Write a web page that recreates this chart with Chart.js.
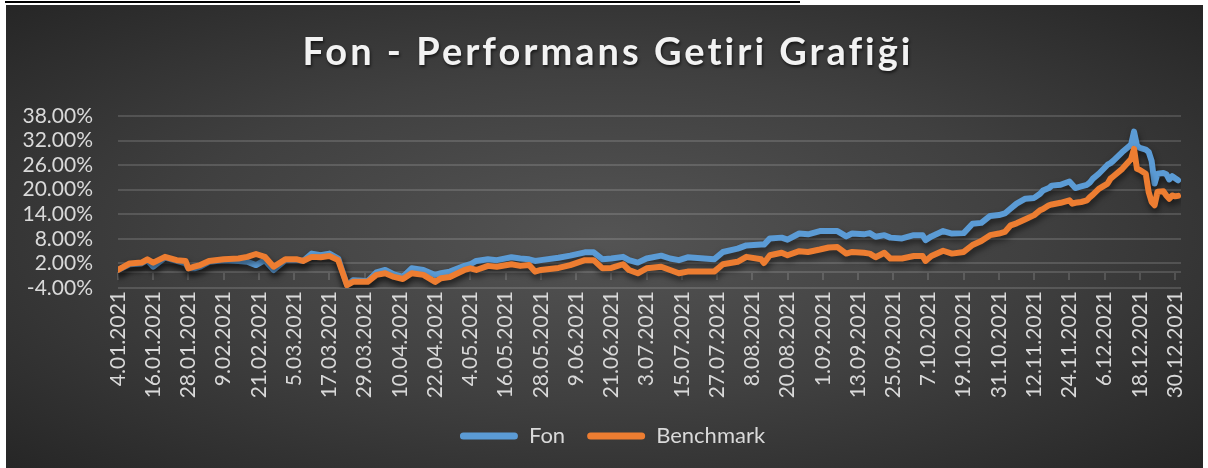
<!DOCTYPE html>
<html lang="tr">
<head>
<meta charset="UTF-8">
<title>Fon - Performans Getiri Grafiği</title>
<script src="https://cdn.jsdelivr.net/npm/chart.js@4.4.1/dist/chart.umd.min.js"></script>
<style>
    html, body { margin: 0; padding: 0; background: #fff; }
    body { width: 1208px; height: 468px; position: relative; overflow: hidden; }
    .top-rule { position: absolute; left: 5px; top: 1px; width: 795px; height: 2px; background: #000; }
    .chart-box {
        position: absolute; left: 6px; top: 5px; width: 1197px; height: 463px;
        background: radial-gradient(ellipse at center, #545454 0%, #404040 50%, #262626 100%);
    }
    .chart-wrap { position: absolute; left: 0; top: 0; width: 1208px; height: 468px; }
</style>
</head>
<body>
<div class="top-rule"></div>
<div class="chart-box"></div>
<div class="chart-wrap"><canvas id="getiri-chart" width="1208" height="468"></canvas></div>
<script>
// Data (values in %)
const dates = [
    '2021-01-04', '2021-01-08', '2021-01-12', '2021-01-14', '2021-01-16', '2021-01-20', '2021-01-24', '2021-01-27',
    '2021-01-28', '2021-01-30', '2021-02-01', '2021-02-04', '2021-02-09', '2021-02-14', '2021-02-17', '2021-02-20',
    '2021-02-23', '2021-02-26', '2021-03-02', '2021-03-06', '2021-03-08', '2021-03-11', '2021-03-14', '2021-03-17',
    '2021-03-20', '2021-03-23', '2021-03-25', '2021-03-30', '2021-04-02', '2021-04-05', '2021-04-08', '2021-04-11',
    '2021-04-14', '2021-04-18', '2021-04-22', '2021-04-24', '2021-04-27', '2021-05-02', '2021-05-04', '2021-05-06',
    '2021-05-10', '2021-05-13', '2021-05-18', '2021-05-21', '2021-05-24', '2021-05-26', '2021-05-28', '2021-06-03',
    '2021-06-07', '2021-06-12', '2021-06-15', '2021-06-18', '2021-06-21', '2021-06-25', '2021-06-27', '2021-06-30',
    '2021-07-03', '2021-07-08', '2021-07-11', '2021-07-14', '2021-07-17', '2021-07-26', '2021-07-29', '2021-08-03',
    '2021-08-06', '2021-08-11', '2021-08-12', '2021-08-14', '2021-08-18', '2021-08-20', '2021-08-24', '2021-08-27',
    '2021-08-31', '2021-09-03', '2021-09-06', '2021-09-09', '2021-09-11', '2021-09-15', '2021-09-17', '2021-09-19',
    '2021-09-22', '2021-09-24', '2021-09-28', '2021-10-02', '2021-10-05', '2021-10-06', '2021-10-08', '2021-10-12',
    '2021-10-15', '2021-10-19', '2021-10-22', '2021-10-25', '2021-10-28', '2021-10-31', '2021-11-02', '2021-11-04',
    '2021-11-06', '2021-11-09', '2021-11-12', '2021-11-14', '2021-11-15', '2021-11-17', '2021-11-18', '2021-11-21',
    '2021-11-24', '2021-11-25', '2021-11-26', '2021-11-28', '2021-11-30', '2021-12-01', '2021-12-02', '2021-12-04',
    '2021-12-07', '2021-12-08', '2021-12-09', '2021-12-12', '2021-12-15', '2021-12-16', '2021-12-17', '2021-12-18',
    '2021-12-20', '2021-12-21', '2021-12-22', '2021-12-23', '2021-12-24', '2021-12-26', '2021-12-27', '2021-12-28',
    '2021-12-29', '2021-12-30', '2021-12-31'
];

const fonValues = [
    0.4, 1.8, 2.0, 2.8, 1.2, 3.4, 2.6, 2.0,
    0.8, 0.8, 1.2, 2.4, 2.8, 2.6, 2.4, 1.6,
    2.8, 0.4, 2.8, 2.8, 2.6, 4.4, 4.0, 4.4,
    3.2, -3.3, -2.1, -2.3, -0.2, 0.4, -0.7, -1.3,
    0.8, 0.4, -0.8, -0.4, 0.0, 1.4, 1.8, 2.6,
    3.0, 2.8, 3.5, 3.2, 3.0, 2.6, 2.8, 3.4,
    3.9, 4.7, 4.7, 3.0, 3.2, 3.6, 2.8, 2.2,
    3.2, 3.9, 3.2, 2.8, 3.5, 3.0, 4.8, 5.6,
    6.4, 6.6, 6.6, 8.1, 8.3, 7.8, 9.3, 9.1,
    9.9, 9.9, 9.9, 8.6, 9.3, 9.1, 9.4, 8.5,
    8.9, 8.3, 8.1, 8.9, 8.9, 7.7, 8.6, 9.9,
    9.3, 9.4, 11.7, 11.9, 13.6, 13.8, 14.2, 15.4,
    16.6, 17.8, 18.0, 19.0, 19.8, 20.4, 21.0, 21.2,
    22.0, 21.2, 20.4, 20.8, 21.2, 21.8, 22.7, 23.9,
    26.1, 26.5, 27.1, 29.2, 31.0, 34.2, 30.8, 30.2,
    29.8, 29.2, 27.0, 21.5, 23.9, 24.1, 23.8, 22.5,
    23.3, 22.8, 22.3
];

const benchmarkValues = [
    0.4, 2.0, 2.2, 3.0, 2.2, 3.6, 2.8, 2.6,
    0.8, 1.2, 1.6, 2.6, 3.0, 3.2, 3.6, 4.3,
    3.6, 1.2, 3.0, 3.0, 2.6, 3.6, 3.5, 3.8,
    2.8, -3.3, -2.5, -2.5, -0.8, -0.4, -1.3, -1.8,
    -0.4, -0.8, -2.5, -1.6, -1.3, 0.4, 0.8, 0.4,
    1.4, 1.2, 1.8, 1.4, 1.6, 0.0, 0.4, 0.9,
    1.6, 2.8, 2.8, 0.8, 0.9, 1.8, 0.4, -0.4,
    0.8, 1.2, 0.4, -0.4, 0.0, 0.0, 1.8, 2.4,
    3.6, 3.0, 2.1, 4.0, 4.6, 4.0, 5.0, 4.8,
    5.4, 5.9, 6.0, 4.4, 4.8, 4.6, 4.4, 3.5,
    4.6, 3.2, 3.2, 3.8, 3.8, 2.6, 3.8, 5.1,
    4.4, 4.8, 6.5, 7.5, 8.9, 9.3, 9.7, 11.3,
    11.8, 12.8, 13.8, 15.0, 15.3, 16.2, 16.4, 16.8,
    17.4, 16.6, 16.8, 17.0, 17.4, 18.2, 18.8, 20.2,
    21.5, 22.7, 23.3, 25.1, 27.5, 30.0, 25.1, 24.8,
    23.9, 19.4, 17.0, 16.2, 19.5, 19.6, 18.6, 17.8,
    18.6, 18.4, 18.5
];

const tickLabels = [
    '4.01.2021', '16.01.2021', '28.01.2021', '9.02.2021', '21.02.2021', '5.03.2021', '17.03.2021', '29.03.2021',
    '10.04.2021', '22.04.2021', '4.05.2021', '16.05.2021', '28.05.2021', '9.06.2021', '21.06.2021', '3.07.2021',
    '15.07.2021', '27.07.2021', '8.08.2021', '20.08.2021', '1.09.2021', '13.09.2021', '25.09.2021', '7.10.2021',
    '19.10.2021', '31.10.2021', '12.11.2021', '24.11.2021', '6.12.2021', '18.12.2021', '30.12.2021'
];

const yTicks = [-4, 2, 8, 14, 20, 26, 32, 38];
const seriesNames = ['Fon', 'Benchmark'];
const chartTitle = 'Fon - Performans Getiri Grafiği';

const FONT = 'Lato, "Noto Sans", sans-serif';
const TEXT_COLOR = '#d9d9d9';
const GRID_COLOR = 'rgba(255, 255, 255, 0.14)';
const DAY_MS = 86400000;
const startDay = Date.UTC(2021, 0, 4);

function dayFromIso(iso) {
    const [y, m, d] = iso.split('-').map(Number);
    return (Date.UTC(y, m - 1, d) - startDay) / DAY_MS;
}

function dayFromLabel(label) {
    const [d, m, y] = label.split('.').map(Number);
    return (Date.UTC(y, m - 1, d) - startDay) / DAY_MS;
}

const tickDays = tickLabels.map(dayFromLabel);

// Axis line at 0% with tick marks, as in Excel
const zeroAxis = {
    id: 'zeroAxis',
    beforeDatasetsDraw(chart) {
        const { ctx, chartArea, scales: { x, y } } = chart;
        const y0 = Math.round(y.getPixelForValue(0));
        ctx.save();
        ctx.strokeStyle = GRID_COLOR;
        ctx.lineWidth = 2;
        ctx.beginPath();
        ctx.moveTo(chartArea.left, y0);
        ctx.lineTo(chartArea.right, y0);
        x.ticks.forEach(t => {
            const px = Math.round(x.getPixelForValue(t.value));
            ctx.moveTo(px, y0);
            ctx.lineTo(px, y0 + 8);
        });
        ctx.stroke();
        ctx.restore();
    }
};

// Soft shadow under the lines
const lineShadow = {
    id: 'lineShadow',
    beforeDatasetsDraw(chart) {
        const ctx = chart.ctx;
        ctx.save();
        ctx.shadowColor = 'rgba(0, 0, 0, 0.55)';
        ctx.shadowBlur = 6;
        ctx.shadowOffsetX = 1;
        ctx.shadowOffsetY = 4;
    },
    afterDatasetsDraw(chart) {
        chart.ctx.restore();
    }
};

// Legend is centred on the plot, not on the whole canvas
const legendShift = {
    id: 'legendShift',
    afterLayout(chart) {
        if (chart.legend) {
            chart.legend.left += 44;
        }
    }
};

// Title with letter spacing and shadow
const spacedTitle = {
    id: 'spacedTitle',
    afterDraw(chart) {
        const ctx = chart.ctx;
        ctx.save();
        ctx.font = 'bold 38px ' + FONT;
        ctx.letterSpacing = '3px';
        ctx.fillStyle = '#f2f2f2';
        ctx.textAlign = 'center';
        ctx.textBaseline = 'alphabetic';
        ctx.shadowColor = 'rgba(0, 0, 0, 0.6)';
        ctx.shadowBlur = 3;
        ctx.shadowOffsetX = 1;
        ctx.shadowOffsetY = 2;
        ctx.fillText(chartTitle, 608, 65);
        ctx.restore();
    }
};

function buildSeries(values) {
    return values.map((v, i) => ({ x: dayFromIso(dates[i]), y: v }));
}

const ctx = document.getElementById('getiri-chart');

new Chart(ctx, {
    type: 'line',
    data: {
        datasets: [
            {
                label: seriesNames[0],
                data: buildSeries(fonValues),
                borderColor: '#5b9bd5',
                backgroundColor: '#5b9bd5',
                borderWidth: 6,
                pointRadius: 0,
                tension: 0,
                borderJoinStyle: 'round',
                borderCapStyle: 'round',
                order: 2
            },
            {
                label: seriesNames[1],
                data: buildSeries(benchmarkValues),
                borderColor: '#ed7d31',
                backgroundColor: '#ed7d31',
                borderWidth: 6,
                pointRadius: 0,
                tension: 0,
                borderJoinStyle: 'round',
                borderCapStyle: 'round',
                order: 1
            }
        ]
    },
    options: {
        responsive: false,
        animation: false,
        devicePixelRatio: 1,
        layout: {
            padding: { top: 116, right: 27, bottom: 11, left: 0 }
        },
        scales: {
            x: {
                type: 'linear',
                min: 0,
                max: 362,
                afterBuildTicks: scale => {
                    scale.ticks = tickDays.map(v => ({ value: v }));
                },
                afterFit: scale => {
                    scale.height = 115;
                },
                grid: { display: false, drawTicks: false },
                border: { display: false },
                ticks: {
                    autoSkip: false,
                    minRotation: 90,
                    maxRotation: 90,
                    padding: 3,
                    color: TEXT_COLOR,
                    font: { family: FONT, size: 21 },
                    callback: value => tickLabels[tickDays.indexOf(value)]
                }
            },
            y: {
                min: -4,
                max: 38,
                afterBuildTicks: scale => {
                    scale.ticks = yTicks.map(v => ({ value: v }));
                },
                afterFit: scale => {
                    scale.width = 118;
                },
                grid: { color: GRID_COLOR, lineWidth: 2, drawTicks: false },
                border: { display: false },
                ticks: {
                    autoSkip: false,
                    padding: 25,
                    color: TEXT_COLOR,
                    font: { family: FONT, size: 21 },
                    callback: value => value.toFixed(2) + '%'
                }
            }
        },
        plugins: {
            title: { display: false },
            tooltip: { enabled: false },
            legend: {
                position: 'bottom',
                labels: {
                    boxWidth: 58,
                    boxHeight: 7,
                    useBorderRadius: true,
                    borderRadius: 3.5,
                    padding: 22,
                    color: TEXT_COLOR,
                    font: { family: FONT, size: 22 },
                    sort: (a, b) => a.datasetIndex - b.datasetIndex,
                    generateLabels: chart => Chart.defaults.plugins.legend.labels.generateLabels(chart)
                        .map(item => ({ ...item, lineWidth: 0, fillStyle: item.strokeStyle }))
                }
            }
        }
    },
    plugins: [zeroAxis, lineShadow, legendShift, spacedTitle]
});
</script>
</body>
</html>
